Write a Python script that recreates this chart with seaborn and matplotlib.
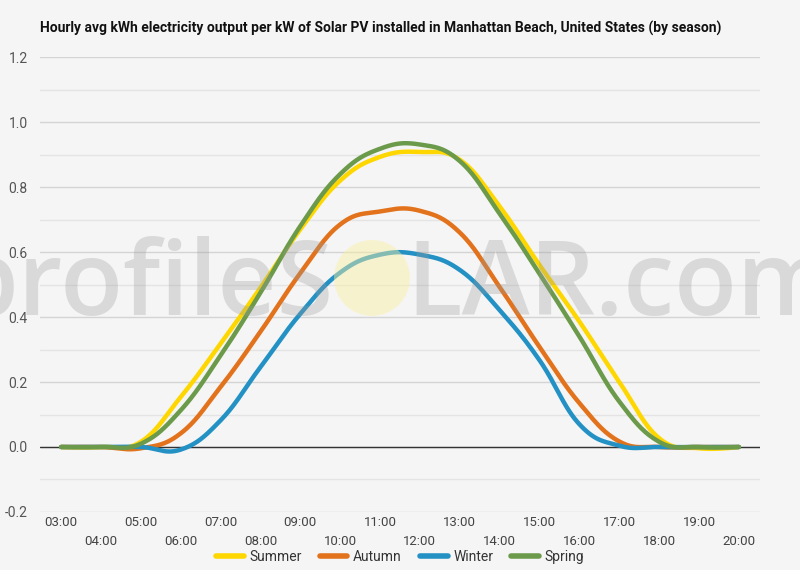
import numpy as np
import pandas as pd
import matplotlib
matplotlib.use("Agg")
import matplotlib.pyplot as plt
import seaborn as sns
from matplotlib.patches import Ellipse

hours = list(range(3, 21))
hour_labels = [f"{h:02d}:00" for h in hours]
summer = [0.0, 0.0, 0.016, 0.154, 0.318, 0.49, 0.67, 0.82, 0.893, 0.908, 0.884, 0.74, 0.56, 0.386, 0.20, 0.027, -0.004, 0.0]
autumn = [0.0, 0.0, -0.004, 0.042, 0.185, 0.355, 0.535, 0.685, 0.725, 0.727, 0.66, 0.492, 0.308, 0.135, 0.017, 0.0, 0.0, 0.0]
winter = [0.0, 0.0, 0.0, -0.008, 0.082, 0.246, 0.41, 0.537, 0.592, 0.592, 0.545, 0.421, 0.267, 0.07, 0.004, 0.0, 0.0, 0.0]
spring = [0.0, 0.0, 0.01, 0.113, 0.282, 0.475, 0.68, 0.84, 0.918, 0.931, 0.88, 0.718, 0.533, 0.34, 0.14, 0.016, 0.0, 0.0]
seasons = ["Summer", "Autumn", "Winter", "Spring"]
colors = ["#FFD700", "#E2721B", "#2391C4", "#6C9A4B"]
title = "Hourly avg kWh electricity output per kW of Solar PV installed in Manhattan Beach, United States (by season)"


def spline(x, y, n=30, k=0.4):
    """Bezier 'spline' series smoothing for drawing (handles at 0.4 of the interval)."""
    x = np.asarray(x, float)
    y = np.asarray(y, float)
    m = len(x)
    slope = np.zeros(m)
    for i in range(1, m - 1):
        slope[i] = (y[i + 1] - y[i - 1]) / (x[i + 1] - x[i - 1])
    xs, ys = [], []
    t = np.linspace(0, 1, n, endpoint=False)[:, None]
    for i in range(m - 1):
        dx = x[i + 1] - x[i]
        p0 = np.array([x[i], y[i]])
        p3 = np.array([x[i + 1], y[i + 1]])
        if i == 0:
            p1 = p0.copy()
        else:
            p1 = np.array([x[i] + k * dx, y[i] + slope[i] * k * dx])
        if i + 1 == m - 1:
            p2 = p3.copy()
        else:
            p2 = np.array([x[i + 1] - k * dx, y[i + 1] - slope[i + 1] * k * dx])
        b = ((1 - t) ** 3) * p0 + 3 * ((1 - t) ** 2) * t * p1 + 3 * (1 - t) * t ** 2 * p2 + t ** 3 * p3
        xs.append(b[:, 0])
        ys.append(b[:, 1])
    xs.append([x[-1]])
    ys.append([y[-1]])
    return np.concatenate(xs), np.concatenate(ys)


frames = []
for name, vals in zip(seasons, [summer, autumn, winter, spring]):
    sx, sy = spline(hours, vals)
    frames.append(pd.DataFrame({"hour": sx, "value": sy, "season": name}))
df = pd.concat(frames, ignore_index=True)

sns.set_theme(style="white")
plt.rcParams["font.family"] = ["Roboto", "DejaVu Sans"]

bg = "#f5f5f5"
fig = plt.figure(figsize=(8, 5.7), dpi=100, facecolor=bg)
ax = fig.add_axes([0.05, 0.1018, 0.9, 0.798], facecolor=bg)

sns.lineplot(data=df, x="hour", y="value", hue="season", hue_order=seasons,
             palette=colors, linewidth=3.2, ax=ax, legend=True, sort=False, zorder=3)

ax.set_xlim(2.47, 20.53)
ax.set_ylim(-0.2, 1.2)
yt = np.round(np.arange(-0.2, 1.21, 0.2), 1)
ax.set_yticks(yt)
ax.set_yticks(np.round(np.arange(-0.1, 1.2, 0.2), 1), minor=True)
ax.set_yticklabels([f"{v:.1f}" for v in yt], color="#555555", fontsize=10)
ax.set_xticks(hours)
ax.set_xticklabels([lab if i % 2 == 0 else "\n" + lab for i, lab in enumerate(hour_labels)],
                   color="#444444", fontsize=9.5, linespacing=1.55)
ax.tick_params(axis="both", which="both", length=0)
ax.tick_params(axis="y", pad=9)
ax.tick_params(axis="x", pad=3)
ax.grid(axis="y", which="major", color="#d4d4d4", linewidth=1)
ax.grid(axis="y", which="minor", color="#e4e4e4", linewidth=1)
ax.axhline(0, color="#333333", linewidth=1, zorder=2)
for s in ax.spines.values():
    s.set_visible(False)
ax.set_xlabel("")
ax.set_ylabel("")

leg = ax.legend(loc="center", bbox_to_anchor=(0.5, -45 / 455), ncol=4, frameon=False,
                fontsize=10, handlelength=2.0, handletextpad=0.4, columnspacing=1.3,
                labelcolor="#333333")
for h in leg.get_lines():
    h.set_linewidth(4)

fig.text(40 / 800, 1 - 28 / 570, title, fontsize=10, fontweight="bold", color="#111111",
         va="center", ha="left")

# watermark
wm_y = 1 - 315 / 570
fig.text(334 / 800, wm_y, "profileS", fontsize=74, color="#9a9a9a", alpha=0.3,
         ha="right", va="baseline", family=["Open Sans", "DejaVu Sans"], fontweight="semibold",
         zorder=10)
fig.text(406 / 800, wm_y, "LAR.com", fontsize=74, color="#9a9a9a", alpha=0.3,
         ha="left", va="baseline", family=["Open Sans", "DejaVu Sans"], fontweight="semibold",
         zorder=10)
circ = Ellipse((372 / 800, 1 - 278 / 570), 76 / 800, 76 / 570, transform=fig.transFigure,
               facecolor="#fbf0a0", alpha=0.45, edgecolor="none", zorder=10)
fig.patches.append(circ)

fig.savefig("out.png", dpi=100, facecolor=bg)
